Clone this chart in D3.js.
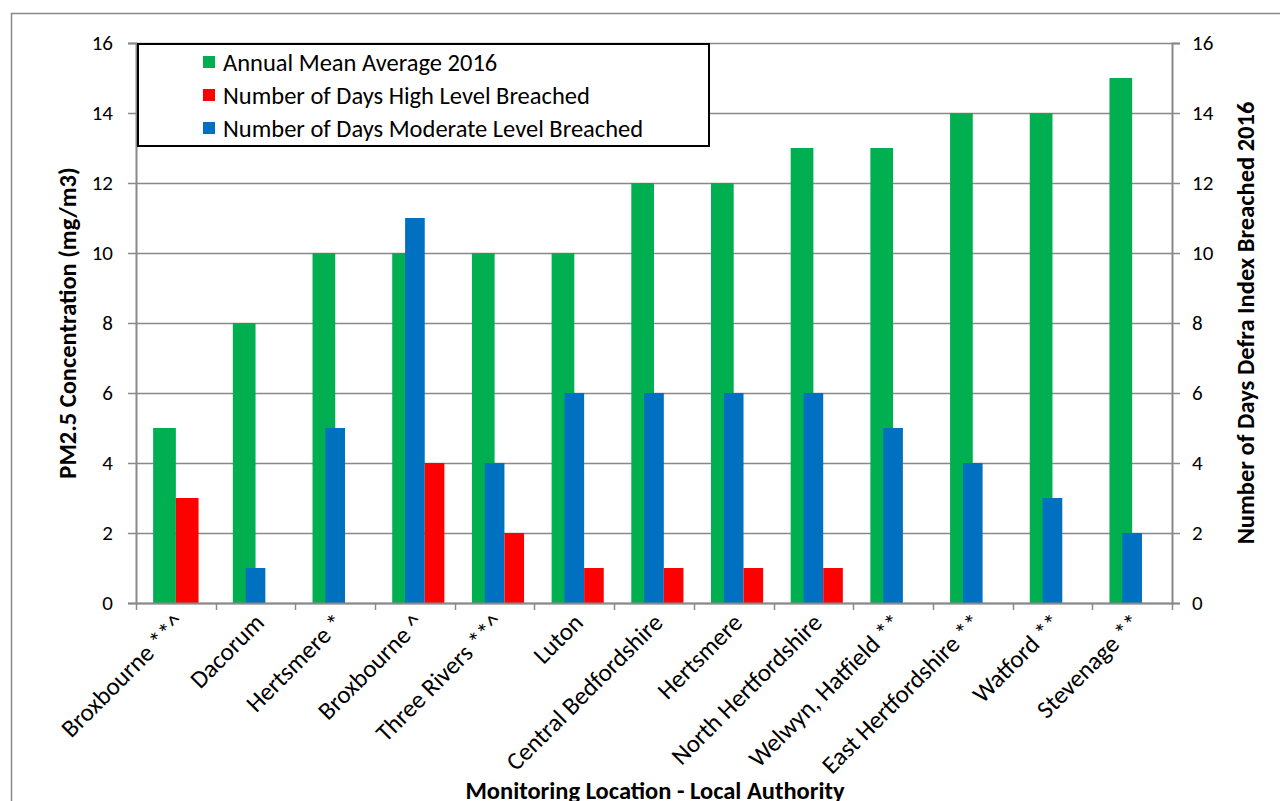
<!doctype html>
<html>
<head>
<meta charset="utf-8">
<style>
	body { margin: 0; background: #fff; }
	text { font-family: Carlito, Lato, "Open Sans", sans-serif; fill: #000; }
</style>
<script src="https://d3js.org/d3.v7.min.js"></script>
</head>
<body>
<script>

var categories = ["Broxbourne **^", "Dacorum", "Hertsmere *", "Broxbourne ^", "Three Rivers **^",
	"Luton", "Central Bedfordshire", "Hertsmere", "North Hertfordshire", "Welwyn, Hatfield **",
	"East Hertfordshire **", "Watford **", "Stevenage **"];

// PM2.5 annual mean (left axis)
var annualMean = [5, 8, 10, 10, 10, 10, 12, 12, 13, 13, 14, 14, 15];
// days high level breached; the first site is plotted in the primary group
var highDaysPrimary = [3, 0, 0, 0, 0, 0, 0, 0, 0, 0, 0, 0, 0];
var highDays = [0, 0, 0, 4, 2, 1, 1, 1, 1, 0, 0, 0, 0];
// days moderate level breached (right axis)
var moderateDays = [0, 1, 5, 11, 4, 6, 6, 6, 6, 5, 4, 3, 2];

var yTicks = [0, 2, 4, 6, 8, 10, 12, 14, 16];

var legendItems = [
	{label: "Annual Mean Average 2016", color: "#00b050"},
	{label: "Number of Days High Level Breached", color: "#ff0000"},
	{label: "Number of Days Moderate Level Breached", color: "#0070c0"}
];

var W = 1280, H = 801;
var pLeft = 136, pRight = 1172, pTop = 43, pBottom = 603;

var svg = d3.select("body").append("svg")
	.attr("width", W)
	.attr("height", H);

// chart area border
svg.append("rect")
	.attr("x", 11.5).attr("y", 13.5)
	.attr("width", W).attr("height", H)
	.attr("fill", "none").attr("stroke", "#898989").attr("stroke-width", 1.5);

var x = d3.scaleBand().domain(categories).range([pLeft, pRight]);
var y = d3.scaleLinear().domain([0, 16]).range([pBottom, pTop]);
var y2 = d3.scaleLinear().domain([0, 16]).range([pBottom, pTop]);

// primary group: 2 slots, secondary group: 3 slots
var xp = d3.scaleBand().domain(["mean", "high"]).range([0, x.bandwidth()]).paddingInner(0).paddingOuter(0.755);
var xs = d3.scaleBand().domain(["blank", "moderate", "high"]).range([0, x.bandwidth()]).paddingInner(0).paddingOuter(0.53);

// gridlines
svg.append("g").selectAll("line")
	.data(yTicks)
	.join("line")
	.attr("x1", pLeft).attr("x2", pRight)
	.attr("y1", function(d) { return Math.round(y(d)) + 0.5; })
	.attr("y2", function(d) { return Math.round(y(d)) + 0.5; })
	.attr("stroke", "#898989").attr("stroke-width", 1.5);

function bars(cls, values, scale, slot, sub, color) {
	svg.append("g").attr("class", cls).selectAll("rect")
		.data(values.map(function(v, i) { return {c: categories[i], v: v}; }).filter(function(d) { return d.v > 0; }))
		.join("rect")
		.attr("x", function(d) { return x(d.c) + sub(slot); })
		.attr("width", sub.bandwidth())
		.attr("y", function(d) { return scale(d.v); })
		.attr("height", function(d) { return pBottom - scale(d.v); })
		.attr("fill", color);
}

bars("mean", annualMean, y, "mean", xp, "#00b050");
bars("highP", highDaysPrimary, y, "high", xp, "#ff0000");
bars("moderate", moderateDays, y2, "moderate", xs, "#0070c0");
bars("high", highDays, y2, "high", xs, "#ff0000");

// axes
var axisColor = "#898989";
var leftAxis = svg.append("g")
	.attr("transform", "translate(" + pLeft + ",0)")
	.call(d3.axisLeft(y).tickValues(yTicks).tickSize(8).tickPadding(15));
var rightAxis = svg.append("g")
	.attr("transform", "translate(" + pRight + ",0)")
	.call(d3.axisRight(y2).tickValues(yTicks).tickSize(8).tickPadding(12));
var bottomAxis = svg.append("g")
	.attr("transform", "translate(0," + pBottom + ")")
	.call(d3.axisBottom(x).tickSize(0).tickFormat(""));

[leftAxis, rightAxis, bottomAxis].forEach(function(a) {
	a.select(".domain").attr("stroke", axisColor).attr("stroke-width", 2);
	a.selectAll(".tick line").attr("stroke", axisColor).attr("stroke-width", 1.5);
	a.selectAll(".tick text").style("font-size", "21px").attr("fill", "#000")
		.style("font-family", "Carlito, Lato, sans-serif");
});

// category boundary ticks on the bottom axis
svg.append("g").selectAll("line")
	.data(categories.concat(["end"]))
	.join("line")
	.attr("x1", function(d, i) { return Math.round(pLeft + i * x.step()) + 0.5; })
	.attr("x2", function(d, i) { return Math.round(pLeft + i * x.step()) + 0.5; })
	.attr("y1", pBottom).attr("y2", pBottom + 7)
	.attr("stroke", axisColor).attr("stroke-width", 1.5);

// rotated category labels
svg.append("g").selectAll("text")
	.data(categories)
	.join("text")
	.attr("transform", function(d) {
		return "translate(" + (x(d) + x.bandwidth() / 2 + 4) + "," + (pBottom + 15) + ") rotate(-45)";
	})
	.attr("text-anchor", "end")
	.attr("dy", "0.35em")
	.style("font-size", "25px")
	.text(function(d) { return d; });

// axis titles
svg.append("text")
	.attr("transform", "translate(76," + ((pTop + pBottom) / 2) + ") rotate(-90)")
	.attr("text-anchor", "middle")
	.style("font-size", "24.5px").style("font-weight", "bold")
	.text("PM2.5 Concentration (mg/m3)");

svg.append("text")
	.attr("transform", "translate(1254," + ((pTop + pBottom) / 2) + ") rotate(-90)")
	.attr("text-anchor", "middle")
	.style("font-size", "24.5px").style("font-weight", "bold")
	.text("Number of Days Defra Index Breached 2016");

svg.append("text")
	.attr("x", 655).attr("y", 799)
	.attr("text-anchor", "middle")
	.style("font-size", "24.5px").style("font-weight", "bold")
	.text("Monitoring Location - Local Authority");

// legend
var legend = svg.append("g");
legend.append("rect")
	.attr("x", 138).attr("y", 44)
	.attr("width", 571).attr("height", 102)
	.attr("fill", "#fff").attr("stroke", "#000").attr("stroke-width", 2);

var rows = legend.selectAll("g.item")
	.data(legendItems)
	.join("g")
	.attr("class", "item")
	.attr("transform", function(d, i) { return "translate(203," + (62 + i * 33) + ")"; });
rows.append("rect")
	.attr("x", 0).attr("y", -6)
	.attr("width", 12).attr("height", 12)
	.attr("fill", function(d) { return d.color; });
rows.append("text")
	.attr("x", 20).attr("dy", "0.35em")
	.style("font-size", "24.5px")
	.text(function(d) { return d.label; });

</script>
</body>
</html>
